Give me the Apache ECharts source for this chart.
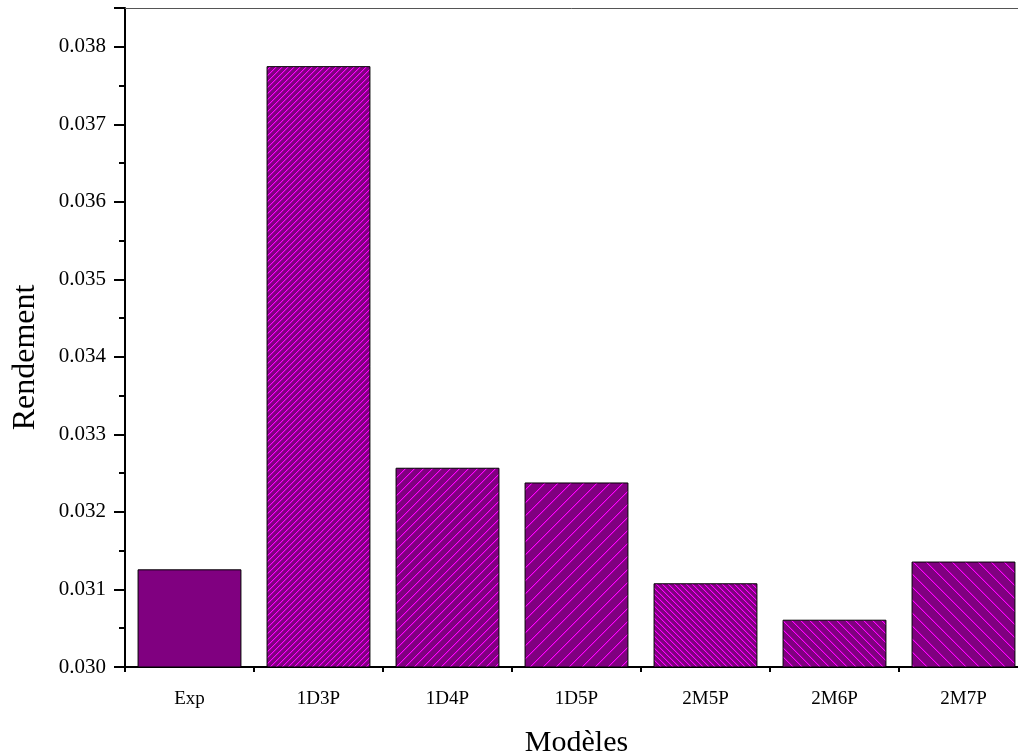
<!DOCTYPE html>
<html>
<head>
<meta charset="utf-8">
<script src="https://cdn.jsdelivr.net/npm/echarts@6/dist/echarts.min.js"></script>
<style>
  html, body { margin: 0; padding: 0; background: #fff; }
  #chart { width: 1018px; height: 756px; }
</style>
</head>
<body>
<div id="chart"></div>
<script>
// Model categories and their yield values
const categories = ['Exp', '1D3P', '1D4P', '1D5P', '2M5P', '2M6P', '2M7P'];
const rendement = [0.03126, 0.03775, 0.03257, 0.03238, 0.03108, 0.03061, 0.03136];

// Hatch style per bar: null = solid fill; otherwise stripe spacing (px) and direction
const hatchStyles = [
  null,
  { step: 6, dir: '/' },
  { step: 9, dir: '/' },
  { step: 13, dir: '/' },
  { step: 6, dir: '\\' },
  { step: 9, dir: '\\' },
  { step: 13, dir: '\\' }
];

const BASE = [128, 0, 128];
const LINE = [255, 0, 255];
const SOFT = [165, 0, 165];

// Build a small repeating tile with 45° stripes
function hatchTile(step, dir) {
  const c = document.createElement('canvas');
  c.width = step; c.height = step;
  const ctx = c.getContext('2d');
  const img = ctx.createImageData(step, step);
  for (let y = 0; y < step; y++) {
    for (let x = 0; x < step; x++) {
      const d = dir === '/' ? ((x + y) % step) : (((x - y) % step) + step) % step;
      const col = d === 0 ? LINE : (d === 1 ? SOFT : BASE);
      const i = (y * step + x) * 4;
      img.data[i] = col[0]; img.data[i + 1] = col[1]; img.data[i + 2] = col[2]; img.data[i + 3] = 255;
    }
  }
  ctx.putImageData(img, 0, 0);
  return c;
}

const barData = rendement.map((v, i) => {
  const h = hatchStyles[i];
  return {
    value: v,
    itemStyle: {
      color: h ? { image: hatchTile(h.step, h.dir), repeat: 'repeat' } : '#800080',
      borderColor: '#000',
      borderWidth: 1
    }
  };
});

const font = 'Liberation Serif';
const chart = echarts.init(document.getElementById('chart'), null, { renderer: 'canvas' });

chart.setOption({
  animation: false,
  backgroundColor: '#fff',
  grid: { left: 125, top: 8, width: 903, bottom: 89, containLabel: false, outerBoundsMode: 'none' },
  xAxis: [
    {
      type: 'category',
      data: categories,
      position: 'bottom',
      name: 'Modèles',
      nameLocation: 'middle',
      nameGap: 61,
      nameTextStyle: { fontFamily: font, fontSize: 30, color: '#000' },
      axisLine: { lineStyle: { color: '#000', width: 2 } },
      axisTick: { alignWithLabel: true, length: 10, lineStyle: { color: '#000', width: 2 } },
      axisLabel: { fontFamily: font, fontSize: 19, color: '#000', margin: 23 },
      splitLine: { show: false }
    },
    {
      // boundary ticks between categories
      type: 'category',
      data: categories,
      position: 'bottom',
      axisLine: { show: false },
      axisTick: { show: true, length: 5, lineStyle: { color: '#000', width: 2 } },
      axisLabel: { show: false },
      splitLine: { show: false }
    },
    {
      // top frame line
      type: 'category',
      data: categories,
      position: 'top',
      axisLine: { lineStyle: { color: '#555', width: 1 } },
      axisTick: { show: false },
      axisLabel: { show: false },
      splitLine: { show: false }
    }
  ],
  yAxis: {
    type: 'value',
    min: 0.030,
    max: 0.0385,
    interval: 0.001,
    name: 'Rendement',
    nameLocation: 'middle',
    nameGap: 83,
    nameRotate: 90,
    nameTextStyle: { fontFamily: font, fontSize: 32, color: '#000', padding: [0, 40, 0, 0] },
    axisLine: { show: true, lineStyle: { color: '#000', width: 2 } },
    axisTick: { show: true, length: 11, inside: false, lineStyle: { color: '#000', width: 2 } },
    minorTick: { show: true, splitNumber: 2, length: 6, lineStyle: { color: '#000', width: 2 } },
    axisLabel: {
      fontFamily: font, fontSize: 21, color: '#000', margin: 19,
      showMaxLabel: false,
      formatter: v => v.toFixed(3)
    },
    splitLine: { show: false }
  },
  series: [{
    type: 'bar',
    xAxisIndex: 0,
    barWidth: '80.5%',
    data: barData
  }]
});
</script>
</body>
</html>
